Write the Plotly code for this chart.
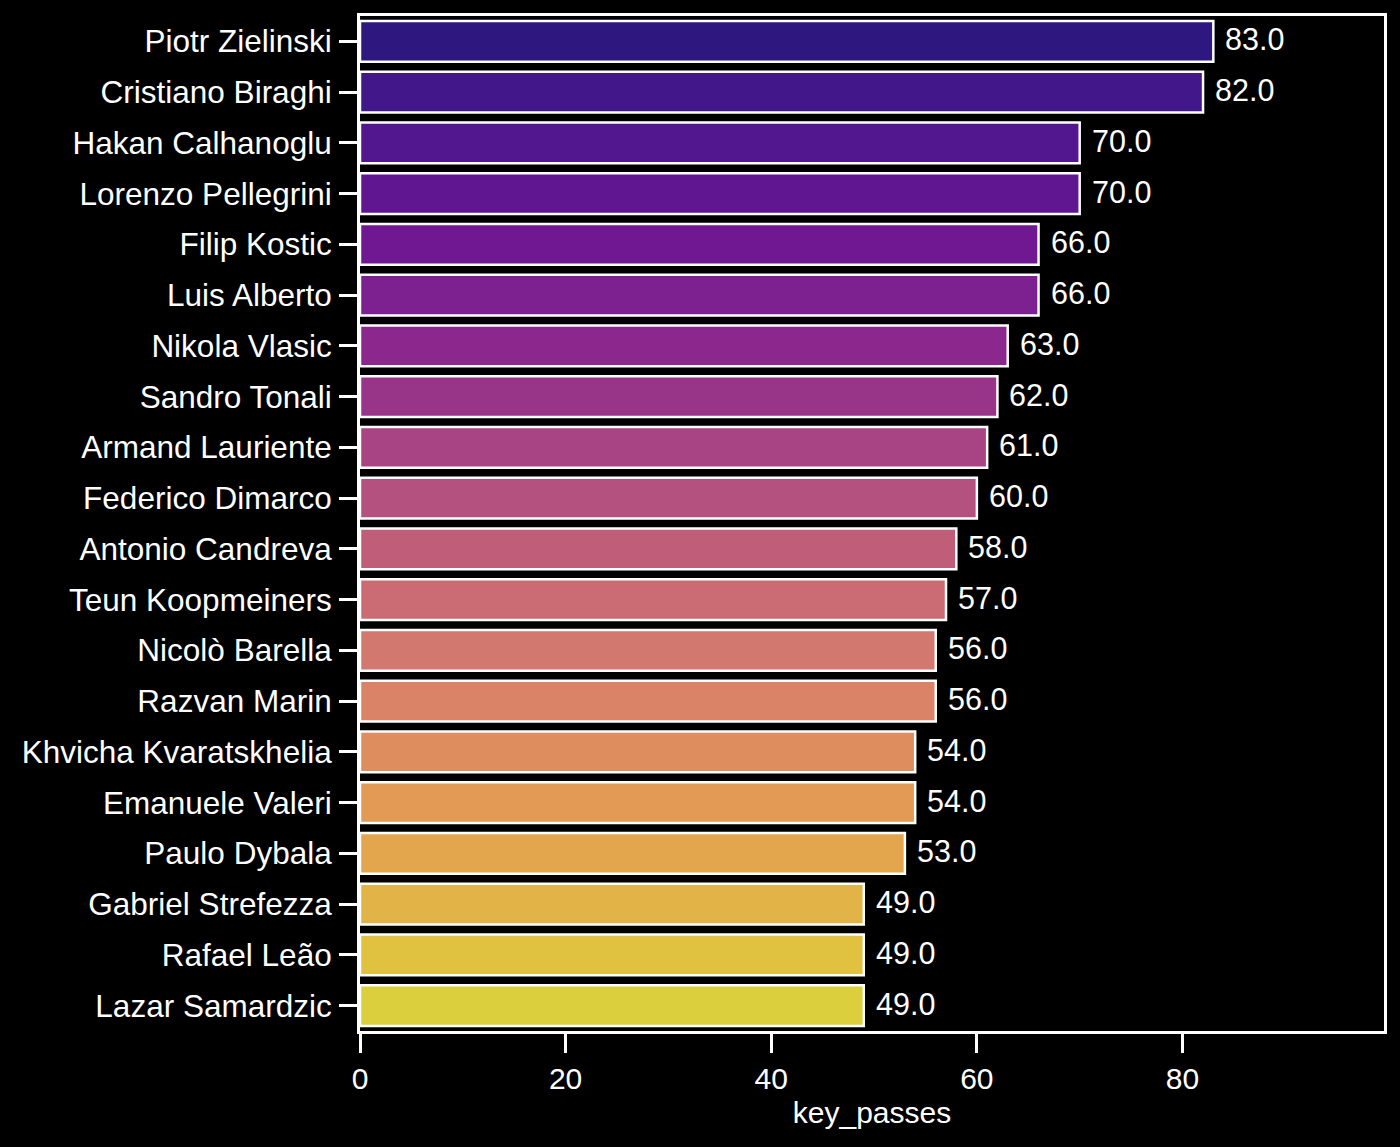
import colorsys
import plotly.graph_objects as go
from plotly.colors import sample_colorscale, sequential

players = ["Piotr Zielinski", "Cristiano Biraghi", "Hakan Calhanoglu", "Lorenzo Pellegrini",
           "Filip Kostic", "Luis Alberto", "Nikola Vlasic", "Sandro Tonali", "Armand Lauriente",
           "Federico Dimarco", "Antonio Candreva", "Teun Koopmeiners", "Nicolò Barella",
           "Razvan Marin", "Khvicha Kvaratskhelia", "Emanuele Valeri", "Paulo Dybala",
           "Gabriel Strefezza", "Rafael Leão", "Lazar Samardzic"]
key_passes = [83, 82, 70, 70, 66, 66, 63, 62, 61, 60, 58, 57, 56, 56, 54, 54, 53, 49, 49, 49]
x_ticks = [0, 20, 40, 60, 80]

n = len(players)
pos = [(i + 1) / (n + 1) for i in range(n)]
raw = sample_colorscale(sequential.Plasma, pos, colortype="tuple")


def desat(c, s=0.75):
    r, g, b = [v / 255 if v > 1 else v for v in c]
    h, l, sat = colorsys.rgb_to_hls(r, g, b)
    r, g, b = colorsys.hls_to_rgb(h, l, sat * s)
    return "rgb(%d,%d,%d)" % (round(r * 255), round(g * 255), round(b * 255))


colors = [desat(c) for c in raw]

FONT = "Liberation Sans, Arial, sans-serif"

fig = go.Figure(go.Bar(
    x=key_passes, y=players, orientation="h", width=0.8,
    marker=dict(color=colors, line=dict(color="white", width=2.5)),
    hoverinfo="x+y",
))

for p, v in zip(players, key_passes):
    fig.add_annotation(x=v, y=p, text="%.1f" % v, showarrow=False, xanchor="left",
                       xshift=10, yshift=2, font=dict(color="white", size=30.5, family=FONT))

fig.update_layout(
    width=1400, height=1147,
    paper_bgcolor="black", plot_bgcolor="black",
    margin=dict(l=360, r=16, t=16, b=116),
    showlegend=False,
    font=dict(family=FONT, color="white", size=30),
    bargap=0.2,
)
fig.update_xaxes(range=[0, 99.6], tickvals=x_ticks, ticks="outside", ticklen=19, tickwidth=3,
                 tickcolor="white", showline=True, linecolor="white", linewidth=3, mirror=True,
                 showgrid=False, zeroline=False, tickfont=dict(size=30),
                 title=dict(text="key_passes", font=dict(size=30), standoff=8))
fig.update_yaxes(categoryorder="array", categoryarray=players, autorange="reversed",
                 ticks="outside", ticklen=18, tickwidth=3, tickcolor="white",
                 showline=True, linecolor="white", linewidth=3, mirror=True,
                 showgrid=False, zeroline=False, tickfont=dict(size=31.5), ticklabelstandoff=1)

fig.write_html("out.html", config={"displayModeBar": False},
               post_script="document.body.style.margin='0';document.body.style.background='black';")
